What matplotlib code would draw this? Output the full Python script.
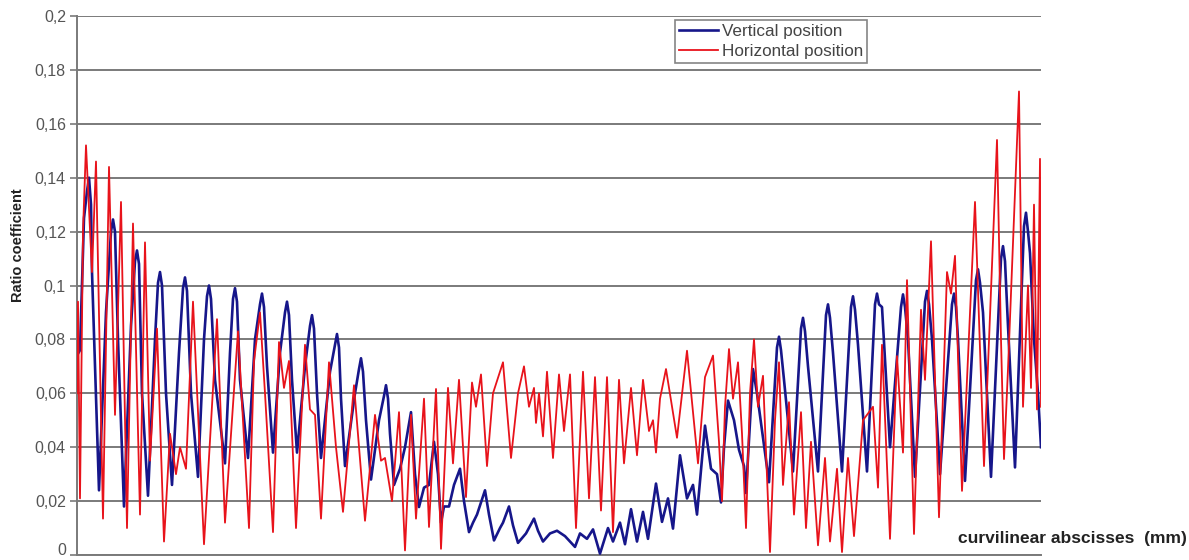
import matplotlib
matplotlib.use("Agg")
import matplotlib.pyplot as plt
from matplotlib.ticker import FixedLocator, FuncFormatter

plt.rcParams['font.family'] = ['Liberation Sans', 'DejaVu Sans']

# Horizontal position series (red): curvilinear abscissa (chart units) and ratio
horiz_x = [0, 1, 3, 6, 9, 15, 19, 26, 32, 38,
           44, 50, 56, 63, 68, 73, 80, 87, 93, 99,
           103, 109, 116, 127, 140, 148, 161, 172, 177, 183,
           188, 196, 202, 207, 212, 219, 228, 233, 238, 244,
           252, 259, 266, 277, 288, 298, 304, 308, 315, 322,
           328, 334, 339, 347, 352, 359, 364, 371, 376, 382,
           389, 395, 399, 404, 410, 416, 426, 434, 441, 447,
           452, 457, 459, 462, 466, 470, 476, 482, 487, 493,
           499, 506, 512, 518, 524, 530, 536, 542, 547, 554,
           560, 566, 572, 576, 579, 583, 589, 595, 600, 610,
           621, 628, 636, 642, 645, 648, 652, 656, 661, 665,
           669, 673, 677, 681, 686, 693, 698, 702, 706, 712,
           717, 724, 729, 734, 741, 748, 753, 760, 765, 771,
           777, 786, 796, 801, 805, 813, 820, 826, 830, 837,
           844, 848, 854, 862, 870, 874, 878, 885, 898, 907,
           920, 924, 927, 931, 942, 946, 951, 954, 957, 960,
           963, 964]
horiz_y = [0.060, 0.094, 0.021, 0.120, 0.152, 0.105, 0.146, 0.0135, 0.144, 0.052,
           0.131, 0.010, 0.123, 0.015, 0.116, 0.035, 0.084, 0.005, 0.045, 0.030,
           0.040, 0.032, 0.094, 0.004, 0.0875, 0.012, 0.083, 0.010, 0.072, 0.090,
           0.060, 0.0085, 0.079, 0.062, 0.072, 0.010, 0.078, 0.054, 0.052, 0.0135,
           0.0715, 0.040, 0.016, 0.063, 0.0127, 0.052, 0.035, 0.036, 0.020, 0.053,
           0.0017, 0.052, 0.0135, 0.058, 0.0104, 0.0616, 0.0023, 0.062, 0.034, 0.065,
           0.0215, 0.064, 0.055, 0.067, 0.033, 0.060, 0.0715, 0.036, 0.060, 0.070,
           0.055, 0.062, 0.049, 0.060, 0.044, 0.068, 0.036, 0.067, 0.046, 0.067,
           0.010, 0.068, 0.021, 0.066, 0.0165, 0.066, 0.0085, 0.065, 0.034, 0.062,
           0.037, 0.065, 0.046, 0.050, 0.038, 0.058, 0.069, 0.055, 0.0435, 0.0758,
           0.034, 0.066, 0.074, 0.042, 0.020, 0.055, 0.0764, 0.058, 0.0715, 0.045,
           0.010, 0.060, 0.080, 0.055, 0.0665, 0.0011, 0.050, 0.0715, 0.026, 0.0567,
           0.015, 0.053, 0.010, 0.042, 0.0036, 0.036, 0.005, 0.032, 0.0011, 0.036,
           0.007, 0.050, 0.055, 0.025, 0.078, 0.006, 0.0738, 0.038, 0.102, 0.0078,
           0.091, 0.065, 0.1164, 0.014, 0.105, 0.097, 0.111, 0.0238, 0.131, 0.033,
           0.154, 0.080, 0.0356, 0.069, 0.172, 0.055, 0.100, 0.062, 0.130, 0.054,
           0.147, 0.055]

# Vertical position series (blue)
vert_x = [0, 3, 7, 10, 12, 14, 15, 22, 29, 34,
          36, 38, 41, 47, 54, 58, 60, 62, 65, 71,
          78, 81, 83, 85, 89, 95, 102, 106, 108, 110,
          114, 121, 127, 130, 132, 134, 138, 148, 153, 156,
          158, 160, 163, 171, 178, 183, 185, 187, 190, 196,
          203, 208, 210, 212, 215, 220, 228, 233, 235, 237,
          240, 244, 253, 258, 260, 262, 264, 268, 278, 282,
          284, 286, 289, 294, 302, 307, 309, 311, 313, 317,
          323, 328, 334, 338, 342, 347, 352, 357, 361, 364,
          367, 372, 377, 383, 387, 392, 396, 400, 408, 412,
          417, 423, 426, 432, 436, 441, 449, 457, 461, 466,
          473, 480, 488, 498, 503, 510, 516, 523, 531, 536,
          543, 548, 554, 560, 566, 571, 579, 585, 591, 596,
          603, 610, 616, 620, 628, 634, 640, 644, 647, 651,
          657, 662, 667, 669, 676, 680, 692, 700, 702, 704,
          707, 716, 724, 726, 728, 731, 741, 749, 751, 753,
          756, 765, 774, 776, 778, 781, 790, 798, 800, 802,
          805, 813, 824, 826, 828, 831, 838, 848, 850, 852,
          855, 863, 875, 877, 879, 881, 888, 899, 901, 903,
          906, 914, 924, 926, 928, 931, 938, 947, 949, 951,
          953, 957, 961, 964]
vert_y = [0.074, 0.076, 0.125, 0.135, 0.140, 0.130, 0.105, 0.024, 0.090, 0.120,
          0.1245, 0.120, 0.080, 0.018, 0.085, 0.109, 0.113, 0.108, 0.060, 0.022,
          0.080, 0.101, 0.105, 0.100, 0.060, 0.026, 0.075, 0.099, 0.103, 0.098,
          0.060, 0.029, 0.080, 0.096, 0.100, 0.095, 0.065, 0.034, 0.075, 0.095,
          0.099, 0.094, 0.065, 0.036, 0.080, 0.093, 0.097, 0.092, 0.070, 0.038,
          0.075, 0.090, 0.094, 0.089, 0.065, 0.038, 0.070, 0.085, 0.089, 0.084,
          0.060, 0.036, 0.068, 0.078, 0.082, 0.077, 0.058, 0.033, 0.060, 0.069,
          0.073, 0.068, 0.050, 0.028, 0.050, 0.059, 0.063, 0.058, 0.045, 0.026,
          0.032, 0.040, 0.053, 0.030, 0.0178, 0.025, 0.026, 0.042, 0.030, 0.012,
          0.018, 0.018, 0.026, 0.032, 0.020, 0.0085, 0.012, 0.015, 0.024, 0.015,
          0.0054, 0.010, 0.012, 0.018, 0.011, 0.0045, 0.008, 0.0135, 0.009, 0.005,
          0.008, 0.009, 0.007, 0.003, 0.008, 0.006, 0.0095, 0.0005, 0.010, 0.005,
          0.012, 0.004, 0.017, 0.005, 0.016, 0.006, 0.0265, 0.0123, 0.021, 0.0098,
          0.037, 0.021, 0.026, 0.015, 0.048, 0.032, 0.030, 0.0195, 0.040, 0.0573,
          0.050, 0.039, 0.033, 0.023, 0.069, 0.060, 0.027, 0.077, 0.081, 0.076,
          0.065, 0.031, 0.084, 0.088, 0.083, 0.070, 0.031, 0.089, 0.093, 0.088,
          0.075, 0.031, 0.092, 0.096, 0.091, 0.078, 0.031, 0.093, 0.097, 0.093,
          0.092, 0.040, 0.092, 0.0967, 0.092, 0.080, 0.029, 0.094, 0.098, 0.093,
          0.080, 0.030, 0.093, 0.097, 0.092, 0.080, 0.0275, 0.102, 0.106, 0.101,
          0.090, 0.029, 0.110, 0.1146, 0.109, 0.085, 0.0325, 0.122, 0.127, 0.120,
          0.112, 0.080, 0.060, 0.040]

y_ticks = [0, 0.02, 0.04, 0.06, 0.08, 0.1, 0.12, 0.14, 0.16, 0.18, 0.2]
series_names = ["Vertical position", "Horizontal position"]

W, H = 1189, 560
fig = plt.figure(figsize=(W / 100, H / 100), dpi=100)
ax = fig.add_axes([77 / W, 1 - 555 / H, (1041 - 77) / W, (555 - 16) / H])

ax.plot(vert_x, vert_y, color='#16168a', lw=1.9, label=series_names[0], zorder=3)
ax.plot(horiz_x, horiz_y, color='#e8131b', lw=1.3, label=series_names[1], zorder=4)

ax.set_xlim(0, 964)
ax.set_ylim(0, 0.2)
ax.yaxis.set_major_locator(FixedLocator(y_ticks))
ax.yaxis.set_major_formatter(FuncFormatter(lambda v, p: ('%g' % round(v, 2)).replace('.', ',')))
ax.set_xticks([])
ax.grid(axis='y', color='#7a7a7a', lw=1.4, zorder=1)
for s in ['top', 'right']:
    ax.spines[s].set_visible(False)
for s in ['left', 'bottom']:
    ax.spines[s].set_color('#7a7a7a')
    ax.spines[s].set_linewidth(1.4)
ax.tick_params(axis='y', length=5, width=1.2, color='#7a7a7a', labelsize=11.5,
               labelcolor='#555555', pad=3)
ax.set_axisbelow(True)
fig.canvas.draw()
ax.get_yticklabels()[0].set_va('baseline')

fig.text(18 / W, 1 - 245 / H, "Ratio coefficient", rotation=90, fontsize=10.5,
         fontweight='bold', ha='center', va='center', color='#222222')
fig.text(1187 / W, 1 - 538 / H, "curvilinear abscisses  (mm)", fontsize=12.5,
         fontweight='bold', ha='right', va='center', color='#222222')

leg = fig.legend(loc='upper left', bbox_to_anchor=(675 / W, 1 - 20 / H), fontsize=12.3,
                 frameon=True, fancybox=False, edgecolor='#666666', handlelength=2.3,
                 handletextpad=0.25, borderpad=0.22, labelspacing=0.3, borderaxespad=0)
leg.get_frame().set_linewidth(1.2)
for t in leg.get_texts():
    t.set_color('#444444')

fig.savefig("out.png", dpi=100)
